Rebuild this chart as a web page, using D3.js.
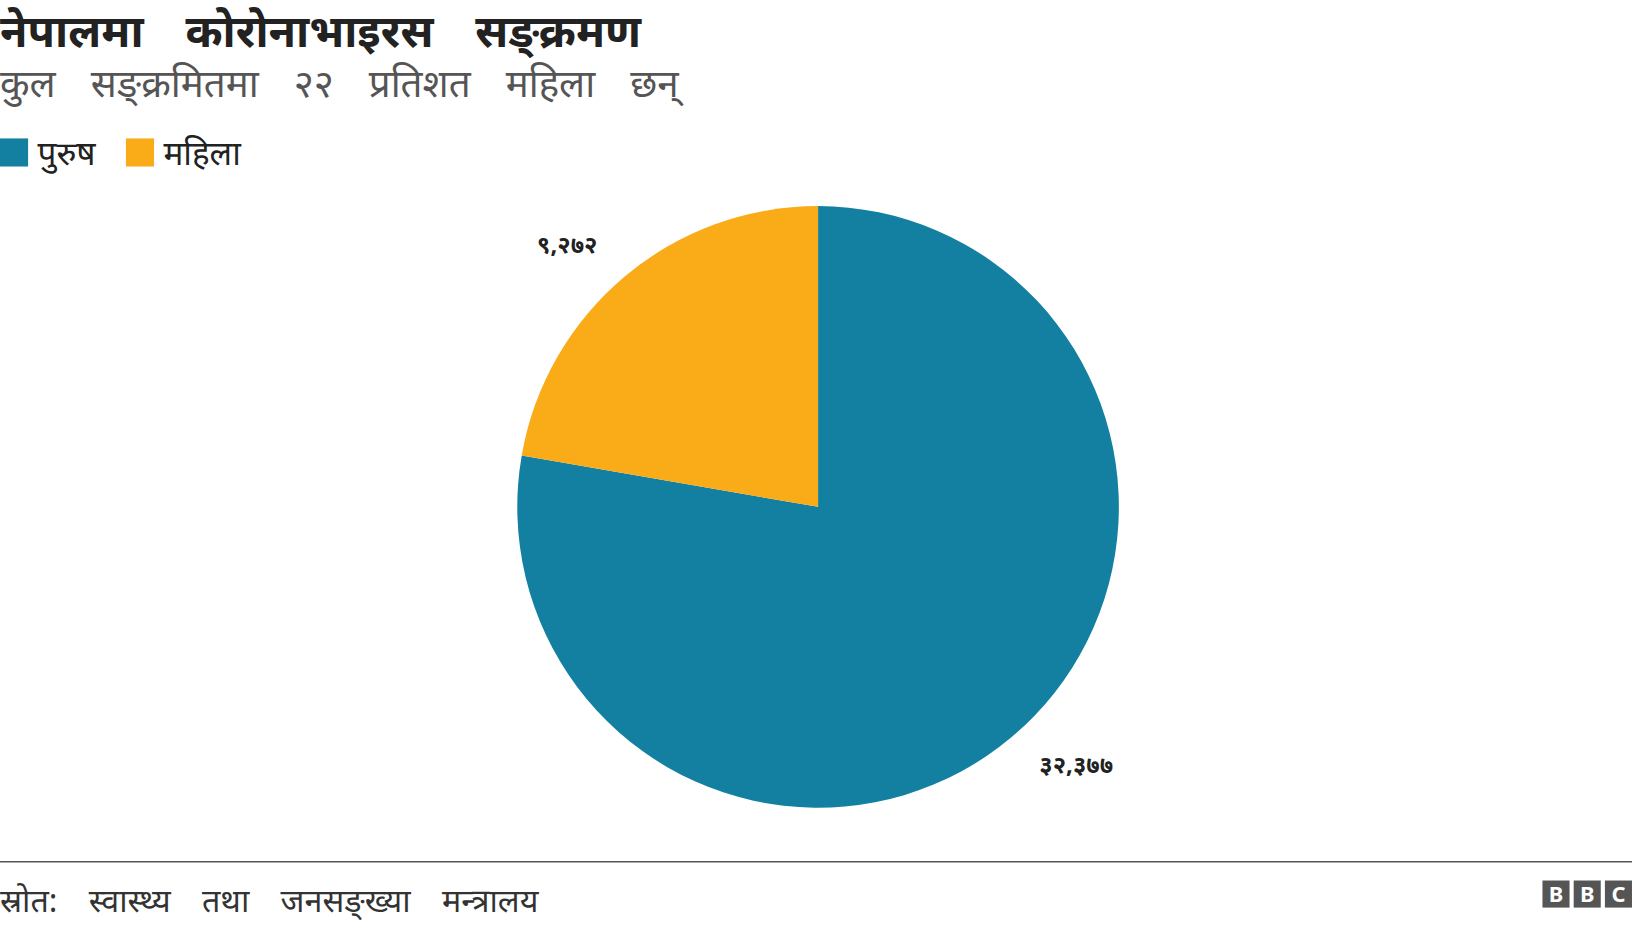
<!DOCTYPE html><html><head><meta charset="utf-8"><script src="https://d3js.org/d3.v7.min.js"></script>
<style>body{margin:0;background:#fff}svg{display:block}text{font-family:"Noto Sans","Noto Sans Devanagari",sans-serif}</style></head><body>
<script>
const categories=["पुरुष","महिला"];
const values=[32377,9272];
const labels=["३२,३७७","९,२७२"];
const colors=["#1380A1","#FAAB18"];
const svg0=d3.select("body").append("svg").attr("width",1632).attr("height",928);
const svg=svg0.append("g").attr("transform","scale(1.0408)");
svg.append("text").attr("x",0).attr("y",45).attr("font-size",43).attr("font-weight","bold").attr("fill","#222").attr("word-spacing",29).text("नेपालमा कोरोनाभाइरस सङ्क्रमण");
svg.append("text").attr("x",0).attr("y",93).attr("font-size",37).attr("fill","#555").attr("word-spacing",24).text("कुल सङ्क्रमितमा २२ प्रतिशत महिला छन्");
const lg=svg.append("g");
categories.forEach((c,i)=>{
 lg.append("rect").attr("x",[0,121][i]).attr("y",133).attr("width",27).attr("height",27).attr("fill",colors[i]);
 lg.append("text").attr("x",[36,157][i]).attr("y",159).attr("font-size",32).attr("fill","#222").text(c);
});
const cx=786,cy=487,r=289;
const pie=d3.pie().sort(null)(values);
const arc=d3.arc().innerRadius(0).outerRadius(r);
const g=svg.append("g").attr("transform",`translate(${cx},${cy})`);
g.selectAll("path").data(pie).join("path").attr("d",arc).attr("fill",(d,i)=>colors[i]);
const lpos=[[1034,743],[545,243]];
labels.forEach((t,i)=>svg.append("text").attr("x",lpos[i][0]).attr("y",lpos[i][1]).attr("text-anchor","middle").attr("font-size",23).attr("font-weight","bold").attr("fill","#222").text(t));
svg.append("line").attr("x1",0).attr("x2",1568).attr("y1",828).attr("y2",828).attr("stroke","#555").attr("stroke-width",1.5);
svg.append("text").attr("x",0).attr("y",876).attr("font-size",31).attr("fill","#333").attr("word-spacing",22).text("स्रोत: स्वास्थ्य तथा जनसङ्ख्या मन्त्रालय");
["B","B","C"].forEach((l,i)=>{
 svg.append("rect").attr("x",1482+i*30).attr("y",846).attr("width",26).attr("height",26).attr("fill","#555");
 svg.append("text").attr("x",1495+i*30).attr("y",867).attr("text-anchor","middle").attr("font-size",21).attr("font-weight","bold").attr("fill","#fff").attr("font-family","Arial, Liberation Sans").text(l);
});
</script></body></html>
